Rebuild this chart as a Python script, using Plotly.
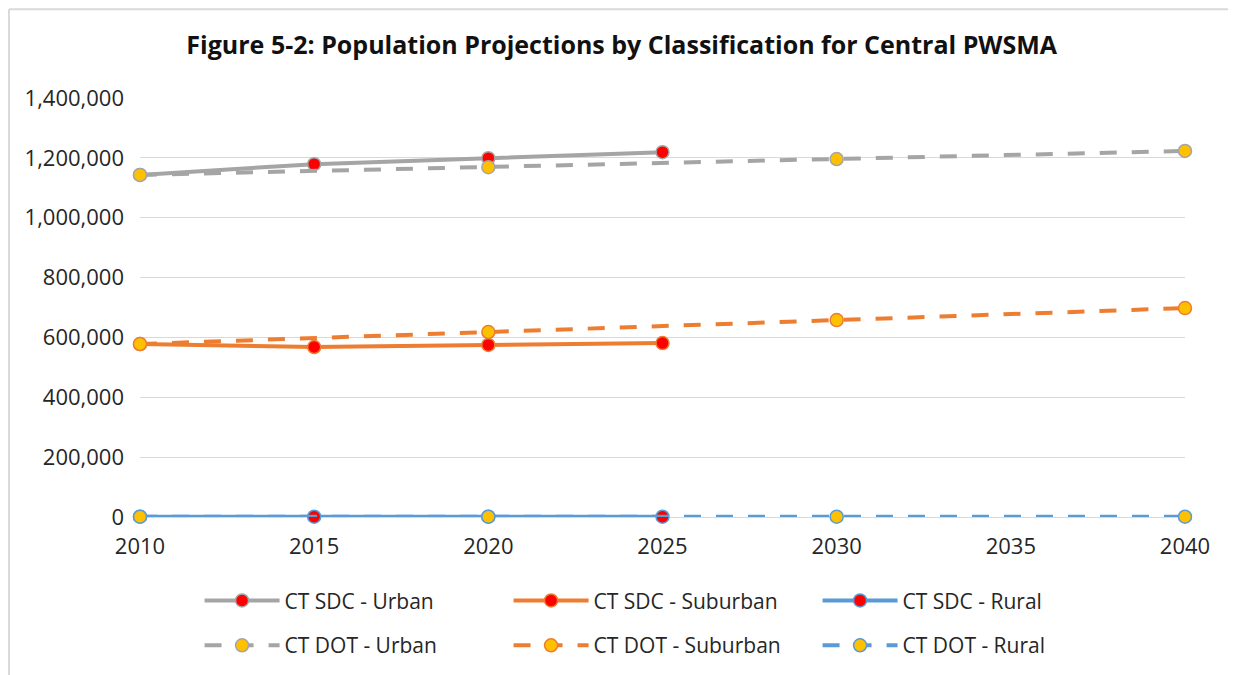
import plotly.graph_objects as go

years = [2010, 2015, 2020, 2025, 2030, 2035, 2040]
sdc_urban = [1143000, 1179000, 1199000, 1219000, None, None, None]
sdc_suburban = [578000, 568000, 575000, 581000, None, None, None]
sdc_rural = [1000, 1000, 1000, 1000, None, None, None]
dot_urban = [1143000, None, 1169000, None, 1196000, None, 1223000]
dot_suburban = [578000, None, 618000, None, 658000, None, 698000]
dot_rural = [1000, None, 1000, None, 1000, None, 1000]

y_ticks = [0, 200000, 400000, 600000, 800000, 1000000, 1200000, 1400000]

GRAY = "#A5A5A5"
ORANGE = "#ED7D31"
BLUE = "#5B9BD5"
RED = "#FF0000"
YELLOW = "#FFC000"
DASH = "17px,15px"

series = [
    ("CT SDC - Urban", sdc_urban, GRAY, "solid", RED, "legend"),
    ("CT SDC - Suburban", sdc_suburban, ORANGE, "solid", RED, "legend"),
    ("CT SDC - Rural", sdc_rural, BLUE, "solid", RED, "legend"),
    ("CT DOT - Urban", dot_urban, GRAY, DASH, YELLOW, "legend2"),
    ("CT DOT - Suburban", dot_suburban, ORANGE, DASH, YELLOW, "legend2"),
    ("CT DOT - Rural", dot_rural, BLUE, DASH, YELLOW, "legend2"),
]

FONT = "'Open Sans', sans-serif"

fig = go.Figure()
for name, vals, color, dash, mfill, leg in series:
    fig.add_trace(go.Scatter(
        x=years, y=vals, name=name, mode="lines+markers",
        connectgaps=True, cliponaxis=False, legend=leg,
        line=dict(color=color, width=4, dash=dash),
        marker=dict(size=13, color=mfill, line=dict(color=color, width=1.5)),
    ))

legend_common = dict(
    orientation="h", xanchor="left", yanchor="middle",
    entrywidth=219, entrywidthmode="pixels",
    font=dict(family=FONT, size=21, color="#262626"),
    itemwidth=75, bgcolor="rgba(0,0,0,0)",
)

fig.update_layout(
    width=1236, height=675,
    margin=dict(l=132, r=59, t=90, b=166),
    paper_bgcolor="white", plot_bgcolor="white",
    font=dict(family=FONT, size=22, color="#262626"),
    title=dict(
        text="<b>Figure 5-2: Population Projections by Classification for Central PWSMA</b>",
        x=0.461, xanchor="center", xref="paper", y=1 - 37 / 675, yanchor="middle",
        font=dict(family=FONT, size=25, color="#111111"),
    ),
    xaxis=dict(
        range=[2010, 2040], tickmode="array", tickvals=years,
        ticktext=[str(y) for y in years],
        showgrid=False, zeroline=False, showline=False, ticks="",
        ticklabelstandoff=14,
    ),
    yaxis=dict(
        range=[0, 1400000], tickmode="array", tickvals=y_ticks,
        ticktext=[f"{v:,}" for v in y_ticks],
        showgrid=True, gridcolor="#D9D9D9", gridwidth=1,
        zeroline=True, zerolinecolor="#D9D9D9", zerolinewidth=1,
        showline=False, ticks="", ticklabelstandoff=15,
    ),
    legend=dict(x=0.057, y=-0.2, **legend_common),
    legend2=dict(x=0.057, y=-0.307, **legend_common),
)

fig.add_shape(type="line", xref="paper", yref="paper",
              x0=-0.1254, x1=1.1, y0=1.212, y1=1.212,
              line=dict(color="#D9D9D9", width=2))
fig.add_shape(type="line", xref="paper", yref="paper",
              x0=-0.1254, x1=-0.1254, y0=1.212, y1=-0.4,
              line=dict(color="#D9D9D9", width=2))

fig.write_html("out.html")
